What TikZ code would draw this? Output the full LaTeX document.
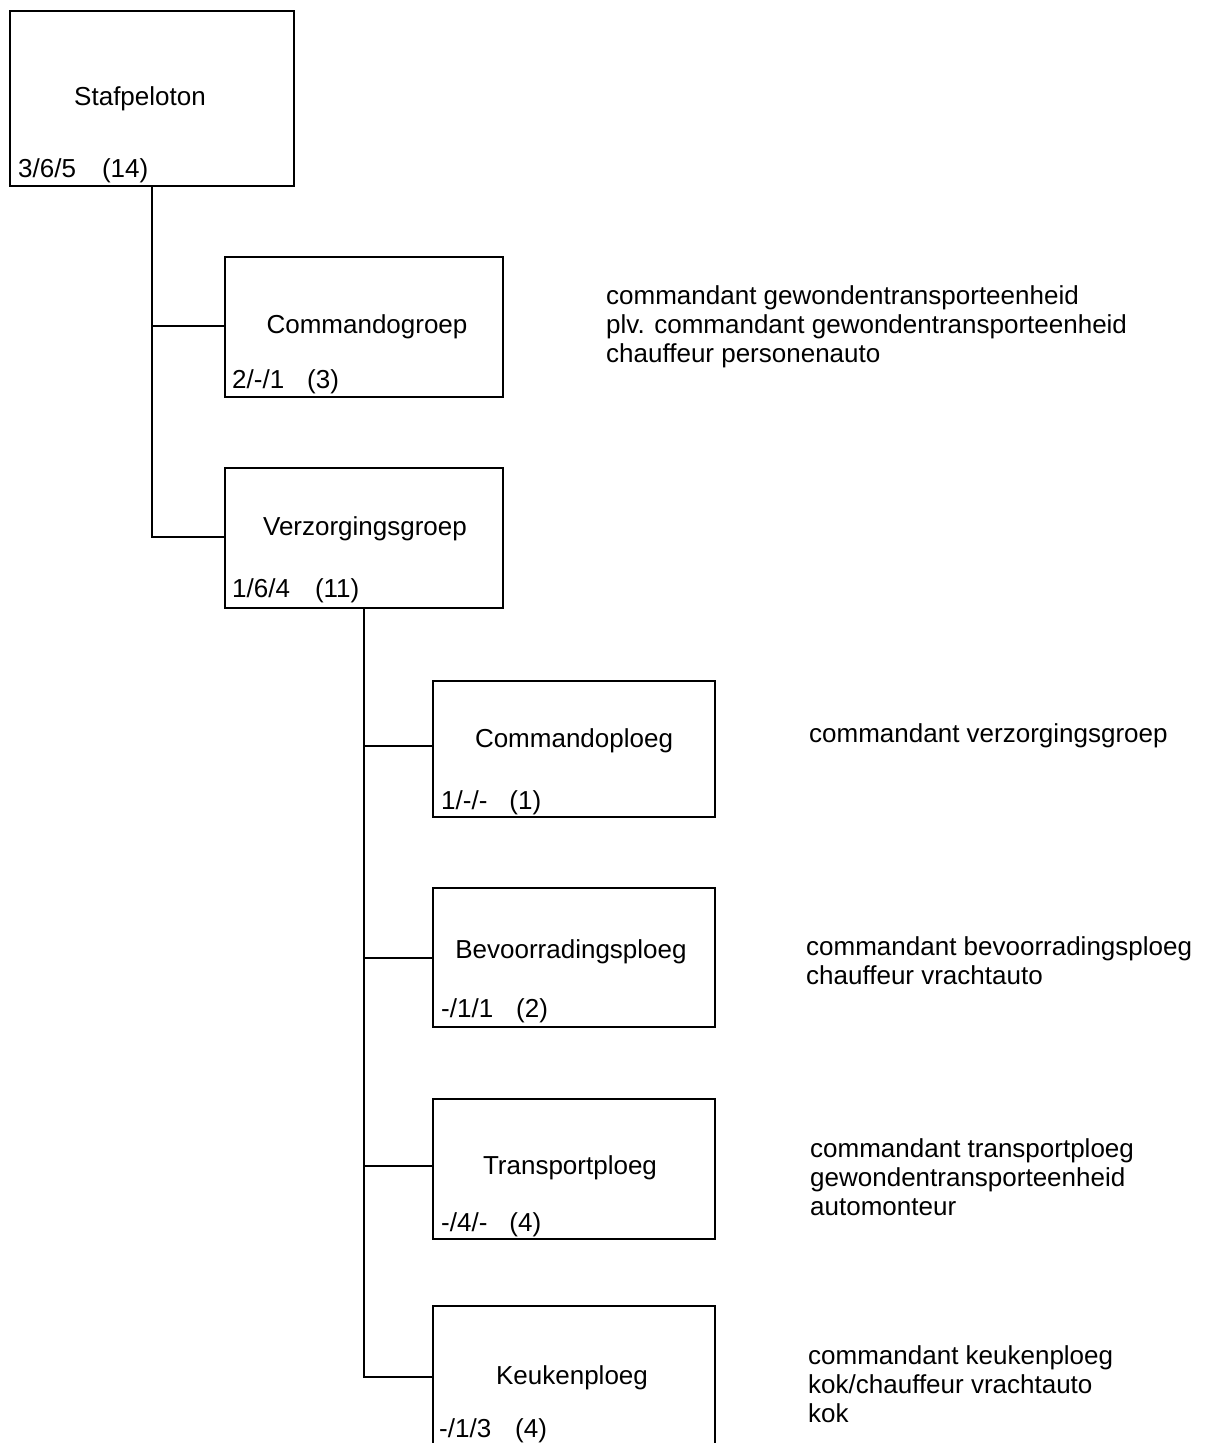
\documentclass[tikz,border=0pt]{standalone}
\usepackage{fontspec}
\setmainfont{Liberation Sans}
\begin{document}
\begin{tikzpicture}[x=1pt,y=-1pt,
  txt/.style={inner sep=0pt,anchor=base,font=\fontsize{26}{29}\selectfont},
  txtw/.style={inner sep=0pt,anchor=base west,font=\fontsize{26}{29}\selectfont},
  box/.style={draw,line width=1.6pt,inner sep=0pt},
  topbox/.style={draw,line width=2.6pt,inner sep=0pt},
  conn/.style={line width=1.4pt}]
\useasboundingbox (0,0) rectangle (1210,1443);
% boxes
\node[topbox,minimum width=284pt,minimum height=175pt] (sp) at (152,98.5) {};
\node[box,minimum width=278pt,minimum height=140pt] (cg) at (364,327) {};
\node[box,minimum width=278pt,minimum height=140pt] (vg) at (364,538) {};
\node[box,minimum width=282pt,minimum height=136pt] (cp) at (574,749) {};
\node[box,minimum width=282pt,minimum height=139pt] (bp) at (574,957.5) {};
\node[box,minimum width=282pt,minimum height=140pt] (tp) at (574,1169) {};
\node[box,minimum width=282pt,minimum height=200pt] (kp) at (574,1406) {};
% box titles
\node[txt] (spt) at (140,105) {Stafpeloton};
\node[txt] (cgt) at (367,333) {Commandogroep};
\node[txt] (vgt) at (365,535) {Verzorgingsgroep};
\node[txt] (cpt) at (574,747) {Commandoploeg};
\node[txt] (bpt) at (571,958) {Bevoorradingsploeg};
\node[txt] (tpt) at (570,1174) {Transportploeg};
\node[txt] (kpt) at (572,1384) {Keukenploeg};
% counts
\node[txtw] (spc) at (18,177) {3/6/5\hspace{26pt}(14)};
\node[txtw] (cgc) at (232,388) {2/-/1\hspace{23pt}(3)};
\node[txtw] (vgc) at (232,597) {1/6/4\hspace{25pt}(11)};
\node[txtw] (cpc) at (441,809) {1/-/-\hspace{22pt}(1)};
\node[txtw] (bpc) at (441,1017) {-/1/1\hspace{23pt}(2)};
\node[txtw] (tpc) at (441,1231) {-/4/-\hspace{22pt}(4)};
\node[txtw] (kpc) at (439,1437) {-/1/3\hspace{24pt}(4)};
% descriptions
\node[txtw] (d1a) at (606,304) {commandant gewondentransporteenheid};
\node[txtw] (d1b) at (606,333) {plv. commandant gewondentransporteenheid};
\node[txtw] (d1c) at (606,362) {chauffeur personenauto};
\node[txtw] (d2a) at (809,742) {commandant verzorgingsgroep};
\node[txtw] (d3a) at (806,955) {commandant bevoorradingsploeg};
\node[txtw] (d3b) at (806,984) {chauffeur vrachtauto};
\node[txtw] (d4a) at (810,1157) {commandant transportploeg};
\node[txtw] (d4b) at (810,1186) {gewondentransporteenheid};
\node[txtw] (d4c) at (810,1215) {automonteur};
\node[txtw] (d5a) at (808,1364) {commandant keukenploeg};
\node[txtw] (d5b) at (808,1393) {kok/chauffeur vrachtauto};
\node[txtw] (d5c) at (808,1422) {kok};
% connectors
\coordinate (t1) at (152,326);
\coordinate (t2) at (152,537);
\draw[conn] (sp.south) -- (t2) -- (t2 -| vg.west);
\draw[conn] (t1) -- (t1 -| cg.west);
\coordinate (u1) at (364,746);
\coordinate (u2) at (364,958);
\coordinate (u3) at (364,1166);
\coordinate (u4) at (364,1377);
\draw[conn] (vg.south) -- (u4) -- (u4 -| kp.west);
\draw[conn] (u1) -- (u1 -| cp.west);
\draw[conn] (u2) -- (u2 -| bp.west);
\draw[conn] (u3) -- (u3 -| tp.west);
\end{tikzpicture}
\end{document}
